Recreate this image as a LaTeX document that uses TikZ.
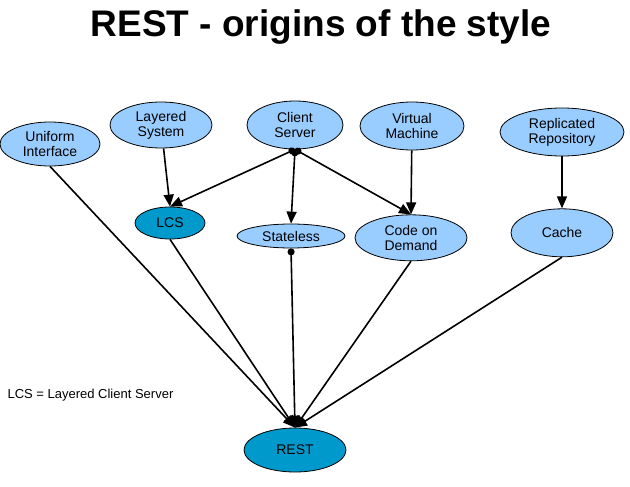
\documentclass[tikz,border=0pt]{standalone}
\usepackage{fontspec}
\setmainfont{Liberation Sans}
\usepackage{xcolor}
\usetikzlibrary{positioning,arrows.meta,shapes.geometric}

\definecolor{paleblue}{RGB}{153,204,255}
\definecolor{tealblue}{RGB}{0,153,204}

\begin{document}
\begin{tikzpicture}[
  x=1pt, y=-1pt,
  oval/.style={ellipse, draw, line width=0.8pt, fill=paleblue, inner sep=0pt,
               font=\fontsize{14}{15}\selectfont, align=center},
  keyoval/.style={oval, fill=tealblue},
  link/.style={-{Triangle[length=12pt,width=10pt]}, line width=1.6pt},
  dotlink/.style={link, {Circle[length=7pt]}-{Triangle[length=12pt,width=10pt]}},
]
\useasboundingbox (0,0) rectangle (630,487);

\node[font=\fontsize{37}{40}\selectfont\bfseries] (title) at (321,27) {REST - origins of the style};

% styles that REST derives from
\node[oval, minimum width=100pt, minimum height=44pt] (ui) at (50,144) {Uniform\\Interface};
\node[oval, minimum width=102pt, minimum height=46pt] (ls) at (161,125) {Layered\\System};
\node[oval, minimum width=96pt, minimum height=48pt] (cs) at (295,125) {Client\\Server};
\node[oval, minimum width=104pt, minimum height=48pt] (vm) at (412,126) {Virtual\\Machine};
\node[oval, minimum width=124pt, minimum height=48pt] (rr) at (562,132) {Replicated\\Repository};

\node[keyoval, minimum width=70pt, minimum height=32pt] (lcs) at (170,223) {LCS};
\node[oval, minimum width=108pt, minimum height=24pt] (sl) at (291,236) {Stateless};
\node[oval, minimum width=112pt, minimum height=46pt, below=64pt of vm, xshift=-1pt] (cod) {Code on\\Demand};
\node[oval, minimum width=102pt, minimum height=48pt, below=52pt of rr] (cache) {Cache};

\node[keyoval, minimum width=102pt, minimum height=44pt] (rest) at (295,450) {REST};

\node[anchor=west, font=\fontsize{13}{14}\selectfont] (key) at (4,395) {LCS = Layered Client Server};

\draw[link] (ls) -- (lcs.north);
\draw[dotlink] (cs.south) -- (lcs.north);
\draw[dotlink] (cs.south) -- (sl.north);
\draw[dotlink] (cs.south) -- (cod.north);
\draw[link] (vm) -- (cod.north);
\draw[link] (rr) -- (cache);

\draw[link] (ui.south) -- (rest.north);
\draw[link] (lcs.south) -- (rest.north);
\draw[dotlink] (sl.south) -- (rest.north);
\draw[link] (cod.south) -- (rest.north);
\draw[link] (cache.south) -- (rest.north);
\end{tikzpicture}
\end{document}
